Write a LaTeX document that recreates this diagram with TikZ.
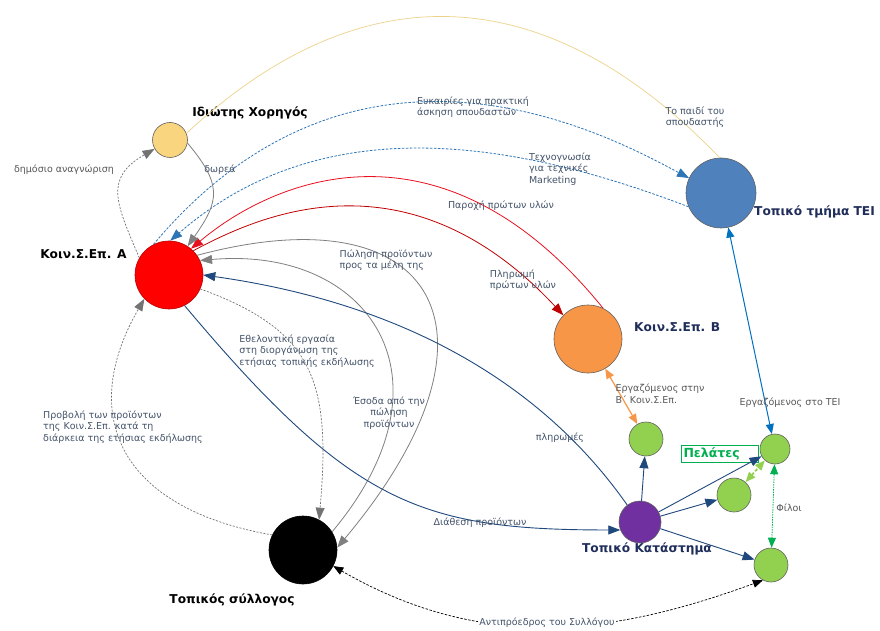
\documentclass[tikz,border=0pt]{standalone}
\usepackage{fontspec}
\setmainfont{DejaVu Sans}
\usetikzlibrary{positioning, arrows.meta}

\definecolor{sponsorfill}{HTML}{F8D57E}
\definecolor{teifill}{HTML}{4F81BD}
\definecolor{orangefill}{HTML}{F79646}
\definecolor{purplefill}{HTML}{7030A0}
\definecolor{greenfill}{HTML}{92D050}
\definecolor{goldline}{HTML}{EDD28A}
\definecolor{dashblue}{HTML}{2E75B6}
\definecolor{brightred}{HTML}{E8101E}
\definecolor{darkred}{HTML}{C00000}
\definecolor{navyline}{HTML}{1F497D}
\definecolor{slate}{HTML}{44546A}
\definecolor{darkgraytext}{HTML}{595959}
\definecolor{titlenavy}{HTML}{1F2D5A}
\definecolor{teiline}{HTML}{0070C0}
\definecolor{friendgreen}{HTML}{00B050}

\begin{document}
\begin{tikzpicture}[
  x=1pt, y=1pt,
  font=\fontsize{9.5}{11.5}\selectfont,
  actor/.style={circle, draw=gray!75!black, line width=0.6pt, inner sep=0pt},
  title/.style={font=\fontsize{12.2}{14}\selectfont\bfseries, inner sep=1pt},
  note/.style={text=slate, align=left, inner sep=1pt},
  arrow/.style={-{Triangle[length=12pt,width=9pt]}},
  dblarrow/.style={{Triangle[length=10pt,width=8pt]}-{Triangle[length=10pt,width=8pt]}},
  grayline/.style={draw=gray, line width=0.8pt},
  graydash/.style={draw=gray!90!black, line width=0.7pt, dash pattern=on 2pt off 1.5pt},
  bluedash/.style={draw=dashblue, line width=0.8pt, dash pattern=on 2.5pt off 1.5pt},
  navy/.style={draw=navyline, line width=0.9pt}
]
\useasboundingbox (0,0) rectangle (880,630);
\fill[white] (0,0) rectangle (880,630);

\node[actor, fill=sponsorfill, minimum size=35pt] (sponsor) at (170,490) {};
\node[actor, fill=red, draw=red!70!black, minimum size=68pt] (koinA) at (169,355) {};
\node[actor, fill=teifill, minimum size=70pt] (tei) at (721,437) {};
\node[actor, fill=orangefill, minimum size=68pt] (koinB) at (588,291) {};
\node[actor, fill=black, draw=black, minimum size=68pt] (club) at (303,80) {};
\node[actor, fill=purplefill, minimum size=42pt] (shop) at (640,108) {};
\node[actor, fill=greenfill, minimum size=34pt] (workB) at (646,191) {};
\node[actor, fill=greenfill, minimum size=30pt] (workT) at (775,181) {};
\node[actor, fill=greenfill, minimum size=34pt] (buyer) at (734,135) {};
\node[actor, fill=greenfill, minimum size=34pt] (vice) at (771,65) {};

\node[title] (sponsorlbl) at (250,517) {Ιδιώτης Χορηγός};
\node[title, left=7pt of koinA, yshift=21pt] (koinAlbl) {Κοιν.Σ.Επ. Α};
\node[title, text=titlenavy, anchor=west] (teilbl) at (753,418) {Τοπικό τμήμα ΤΕΙ};
\node[title, text=titlenavy, anchor=west] (koinBlbl) at (633,303) {Κοιν.Σ.Επ. Β};
\node[title] (clublbl) at (232,30) {Τοπικός σύλλογος};
\node[title, text=titlenavy] (shoplbl) at (647,81) {Τοπικό Κατάστημα};
\node[draw=friendgreen, text=friendgreen, font=\fontsize{12.5}{14}\selectfont\bfseries,
  inner sep=2pt, text width=73pt, minimum height=17pt, left=1pt of workT, yshift=-5pt] (buyerlbl) {Πελάτες};

\draw[goldline, line width=0.7pt] (sponsor.22) .. controls +(43:230) and +(134:260) .. (tei.92);
\draw[bluedash, arrow] (koinA.117) .. controls +(50:320) and +(152:90) .. (tei.155);
\draw[bluedash, arrow] (tei.203) .. controls +(159:208) and +(41:190) .. (koinA.88);
\draw[draw=brightred, line width=0.8pt, arrow] (koinB.64) .. controls +(129:252) and +(40:114) .. (koinA.50);
\draw[draw=darkred, line width=0.8pt, arrow] (koinA.45) .. controls +(28:68) and +(133:233) .. (koinB.136);

\draw[grayline, arrow] (sponsor.-10) .. controls +(-50:55) and +(55:55) .. (koinA.57);
\draw[graydash, arrow] (koinA.150) .. controls +(113:59) and +(210:59) .. (sponsor.210);
\draw[grayline, arrow] (koinA.35) .. controls +(15:250) and +(50:280) .. (club.4);
\draw[grayline, arrow] (club.32) .. controls +(50:200) and +(5:170) .. (koinA.25);
\draw[graydash, arrow] (koinA.-24) .. controls +(-20:120) and +(85:140) .. (club.62);
\draw[graydash, arrow] (club.154) .. controls +(170:160) and +(240:130) .. (koinA.224);

\draw[navy, arrow] (shop.127) .. controls +(125:150) and +(-8:200) .. (koinA.0);
\draw[navy, arrow] (koinA.-63) .. controls +(-50:260) and +(180:200) .. (shop.202);
\draw[navy, arrow] (shop) -- (workB);
\draw[navy, arrow] (shop) -- (workT);
\draw[navy, arrow] (shop) -- (buyer);
\draw[navy, arrow] (shop) -- (vice);

\draw[draw=orangefill, line width=1.2pt, dblarrow] (koinB) -- (workB);
\draw[draw=teiline, line width=1pt, dblarrow] (tei) -- (workT);
\draw[draw=greenfill, line width=1.8pt, dash pattern=on 3pt off 2pt, dblarrow] (buyer) -- (workT);
\draw[draw=friendgreen, line width=0.8pt, dash pattern=on 1.5pt off 1pt, dblarrow] (workT) -- (vice);
\draw[draw=black, line width=0.7pt, dash pattern=on 2.5pt off 1.5pt, dblarrow] (club.-28) .. controls +(-30:180) and +(200:150) .. (vice.242);

\node[note, text=darkgraytext] (lblpublic) at (64,460) {δημόσιο αναγνώριση};
\node[note] (lbldonation) at (220,460) {δωρεά};
\node[note] (lblpractice) at (473,523) {Ευκαιρίες για πρακτική\\άσκηση σπουδαστών};
\node[note, align=center] (lblchild) at (695,513) {Το παιδί του\\σπουδαστής};
\node[note] (lblknowhow) at (560,461) {Τεχνογνωσία\\για τεχνικές\\Marketing};
\node[note] (lblsupply) at (501,424) {Παροχή πρώτων υλών};
\node[note] (lblsale) at (386,370) {Πώληση προϊόντων\\προς τα μέλη της};
\node[note] (lblpayraw) at (523,350) {Πληρωμή\\πρώτων υλών};
\node[note] (lblvolunteer) at (307,279) {Εθελοντική εργασία\\στη διοργάνωση της\\ετήσιας τοπικής εκδήλωσης};
\node[note, align=center] (lblincome) at (389,217) {Έσοδα από την\\πώληση\\προϊόντων};
\node[note] (lblpromo) at (123,203) {Προβολή των προϊόντων\\της Κοιν.Σ.Επ. κατά τη\\διάρκεια της ετήσιας εκδήλωσης};
\node[note] (lblpayments) at (560,192) {πληρωμές};
\node[note] (lbldistrib) at (480,107) {Διάθεση προϊόντων};
\node[note, text=darkgraytext] (lblworkB) at (660,236) {Εργαζόμενος στην\\Β΄ Κοιν.Σ.Επ.};
\node[note, text=darkgraytext] (lblworkT) at (790,227) {Εργαζόμενος στο ΤΕΙ};
\node[note, text=darkgraytext] (lblfriends) at (789,122) {Φίλοι};
\node[note, fill=white] (lblvice) at (547,7) {Αντιπρόεδρος του Συλλόγου};
\end{tikzpicture}
\end{document}
